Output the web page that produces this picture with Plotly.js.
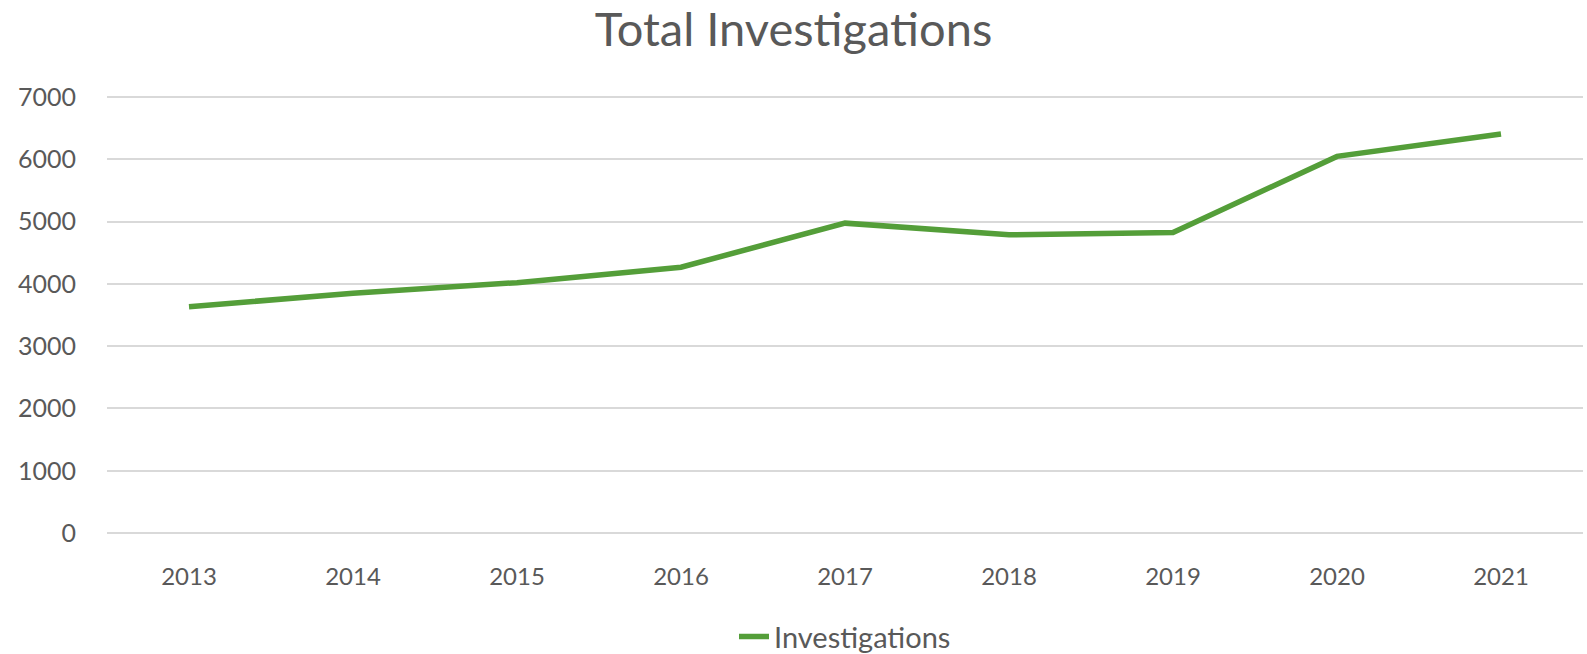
<!DOCTYPE html>
<html>
<head>
<meta charset="utf-8">
<script src="https://cdn.plot.ly/plotly-3.0.1.min.js"></script>
<style>html,body{margin:0;padding:0;background:#fff;}#chart{width:1587px;height:654px;}</style>
</head>
<body>
<div id="chart"></div>
<script>
const years = ["2013","2014","2015","2016","2017","2018","2019","2020","2021"];
const investigations = [3633, 3849, 4019, 4267, 4974, 4786, 4823, 6045, 6405];
const yTicks = [0,1000,2000,3000,4000,5000,6000,7000];
const seriesName = "Investigations";
const chartTitle = "Total Investigations";

const font = "Lato, 'Open Sans', sans-serif";
const textColor = "#595959";

const trace = {
  x: years,
  y: investigations,
  type: "scatter",
  mode: "lines",
  name: seriesName,
  line: {color: "#549E39", width: 5.5, shape: "linear"},
  hoverinfo: "skip"
};

const layout = {
  width: 1587,
  height: 654,
  paper_bgcolor: "#ffffff",
  plot_bgcolor: "#ffffff",
  margin: {l: 107, r: 4, t: 95, b: 119, pad: 0, autoexpand: false},
  title: {
    text: chartTitle,
    font: {family: font, size: 47, color: textColor},
    x: 0.5, xanchor: "center",
    y: 1 - 30/654, yanchor: "middle", yref: "container"
  },
  showlegend: true,
  legend: {
    orientation: "h",
    x: 0.5, xanchor: "center",
    y: -0.231, yanchor: "middle",
    font: {family: font, size: 29, color: textColor},
    bgcolor: "rgba(0,0,0,0)"
  },
  xaxis: {
    type: "category",
    range: [-0.5, years.length - 0.5],
    tickvals: years,
    ticktext: years,
    showgrid: false,
    zeroline: false,
    showline: false,
    ticks: "",
    ticklabelstandoff: 25,
    tickfont: {family: font, size: 24, color: textColor},
    fixedrange: true
  },
  yaxis: {
    range: [-30, 7030],
    tickvals: yTicks,
    ticktext: yTicks.map(String),
    showgrid: true,
    gridcolor: "#D9D9D9",
    gridwidth: 2,
    zeroline: false,
    showline: false,
    ticks: "",
    ticklabelstandoff: 30,
    tickfont: {family: font, size: 25, color: textColor},
    fixedrange: true
  }
};

Plotly.newPlot("chart", [trace], layout, {displayModeBar: false, staticPlot: true});
</script>
</body>
</html>
